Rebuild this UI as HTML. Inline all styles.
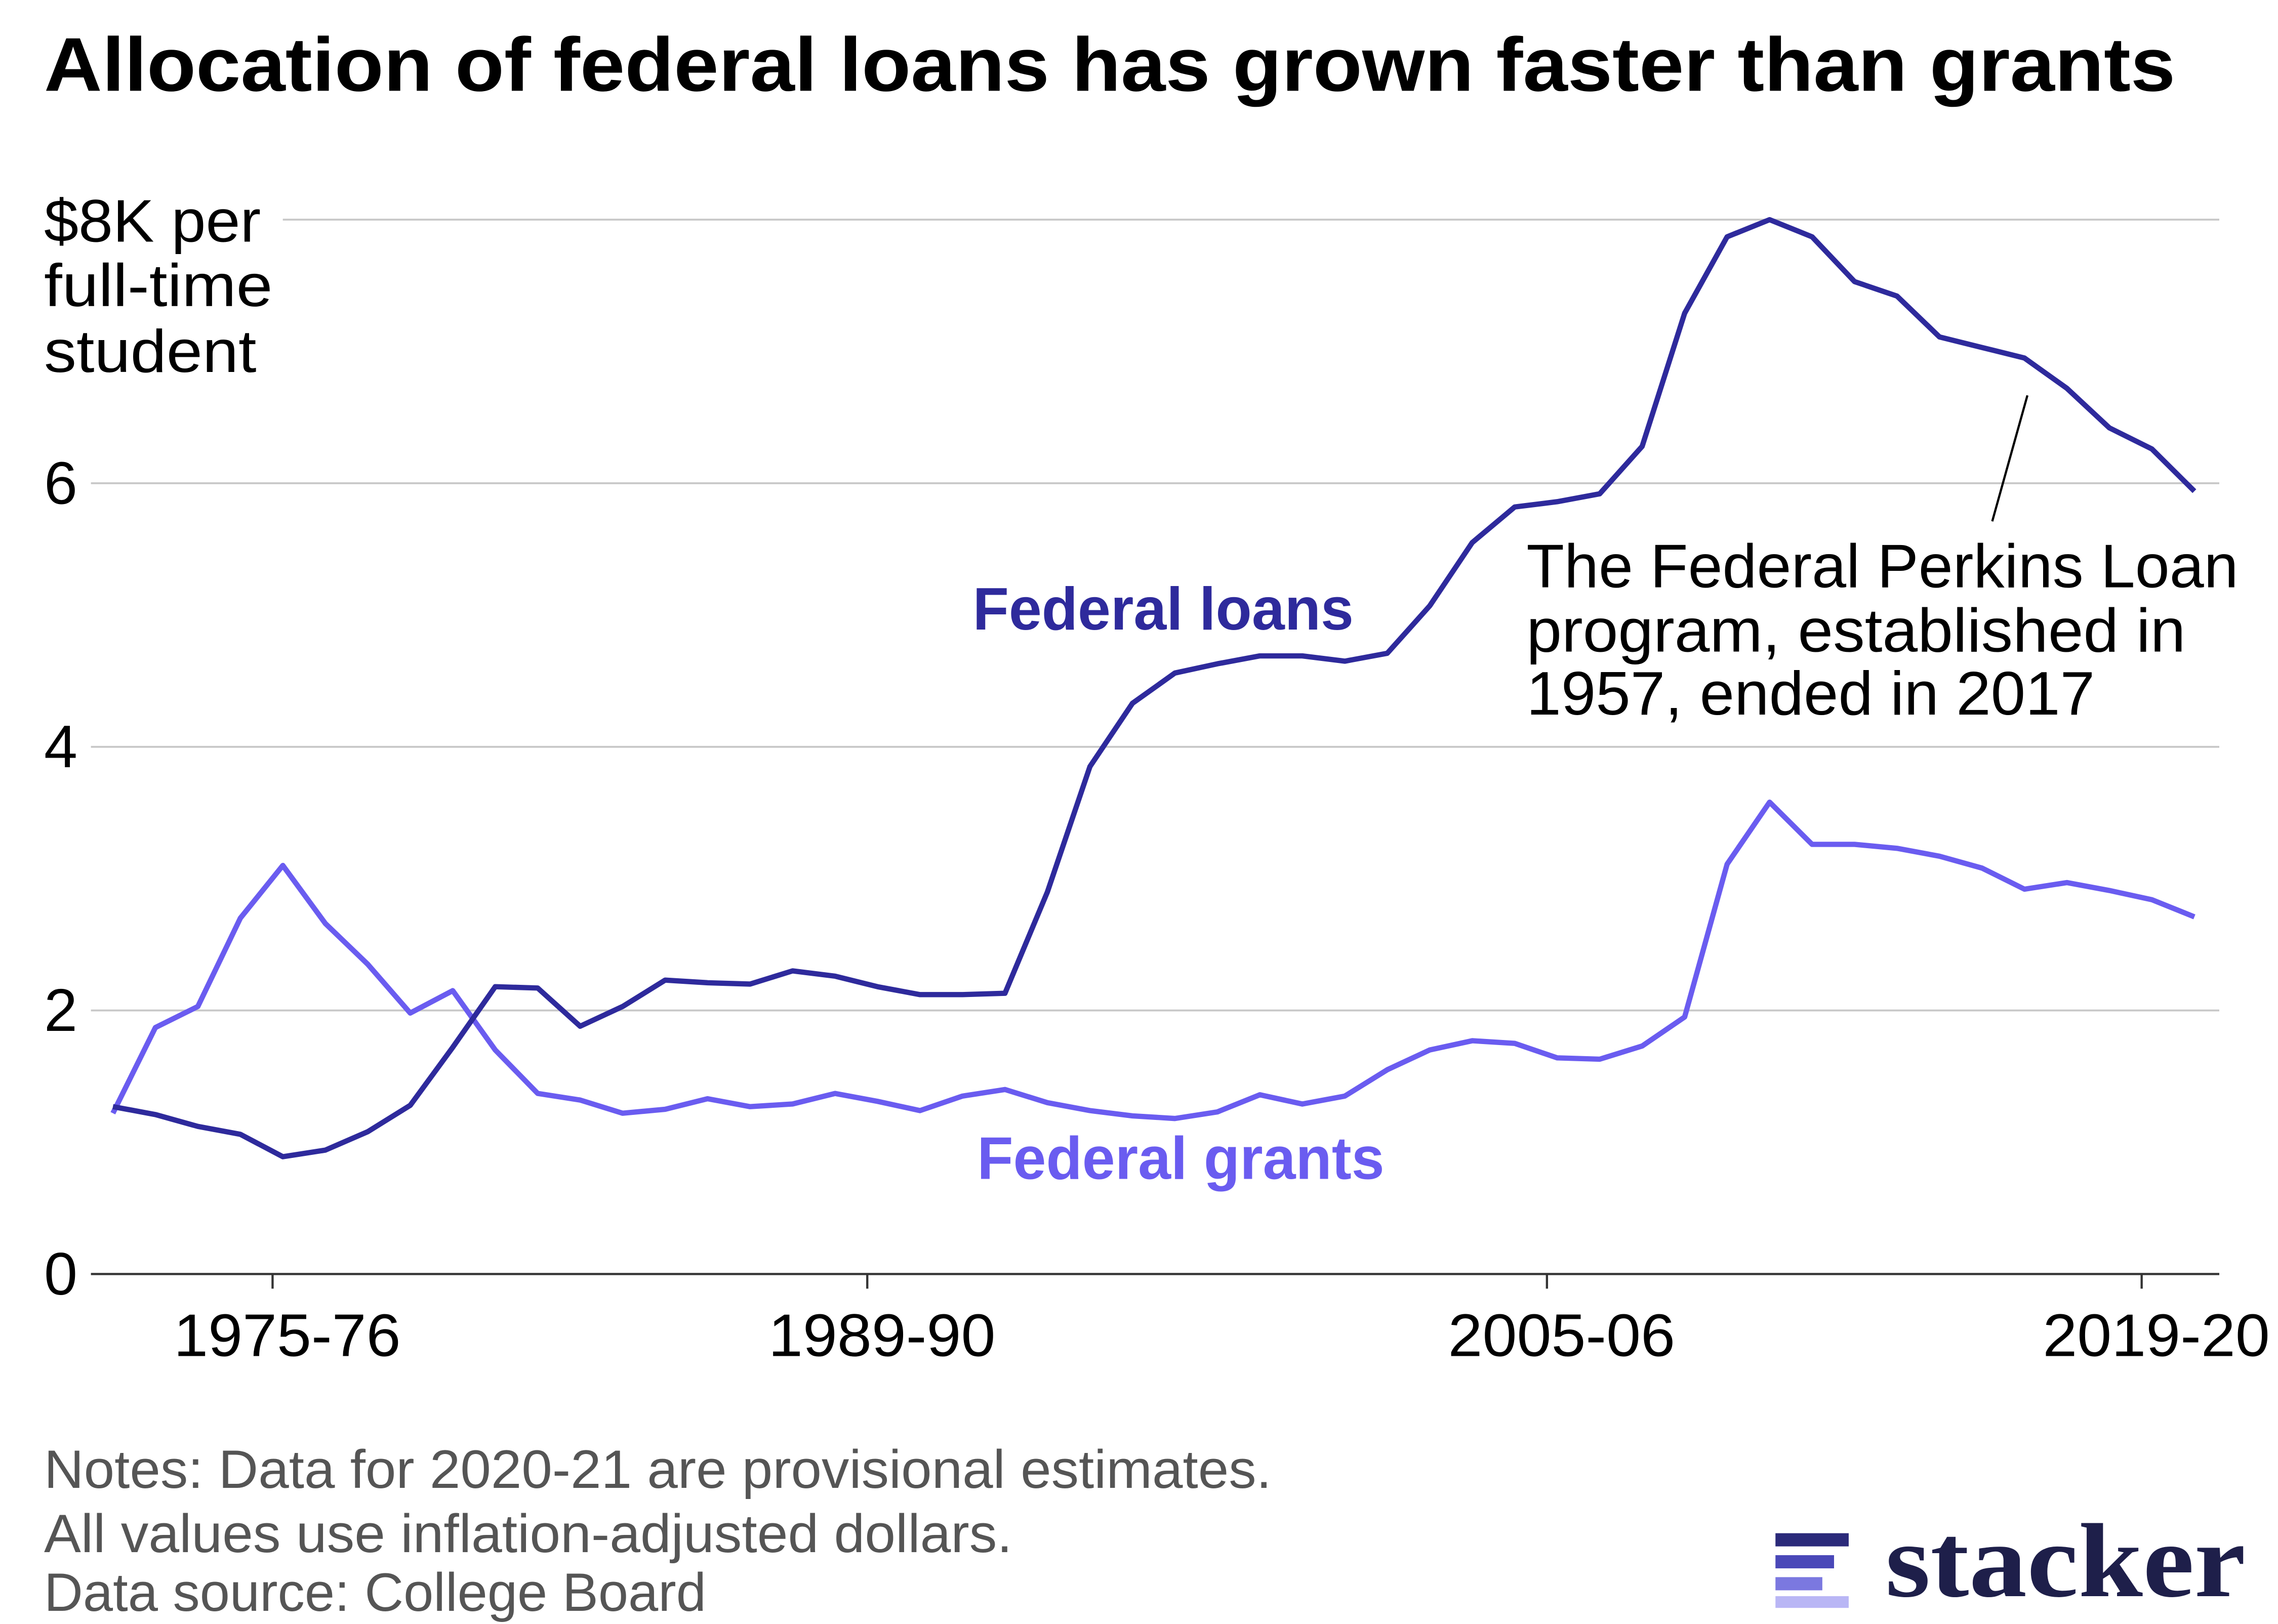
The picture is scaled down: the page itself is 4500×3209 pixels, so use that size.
<!DOCTYPE html>
<html><head><meta charset="utf-8"><style>
html,body{margin:0;padding:0;background:#fff;}
svg{display:block;font-family:"Liberation Sans",sans-serif;}
</style></head><body>
<svg id="chart" width="4500" height="3209" viewBox="0 0 1555 1109" xmlns="http://www.w3.org/2000/svg">
<rect width="1555" height="1109" fill="#fff"/>
<text x="30" y="62" font-size="52" font-weight="bold" fill="#000" textLength="1455" lengthAdjust="spacingAndGlyphs">Allocation of federal loans has grown faster than grants</text>
<g id="grid"></g>
<g id="yticks"></g>
<text font-size="41" fill="#000"><tspan x="30" y="165" textLength="148" lengthAdjust="spacingAndGlyphs">$8K per</tspan><tspan x="30" y="209" textLength="156" lengthAdjust="spacingAndGlyphs">full-time</tspan><tspan x="30" y="254" textLength="145" lengthAdjust="spacingAndGlyphs">student</tspan></text>
<g id="xticks"></g>
<g id="lines"></g>
<text x="664" y="430" font-size="41" font-weight="bold" fill="#2e2a9c" textLength="260" lengthAdjust="spacingAndGlyphs">Federal loans</text>
<text x="667" y="805" font-size="41" font-weight="bold" fill="#6a5cf0" textLength="278" lengthAdjust="spacingAndGlyphs">Federal grants</text>
<line x1="1384" y1="270" x2="1360" y2="356" stroke="#000" stroke-width="1.5"/>
<text font-size="42" fill="#000"><tspan x="1042" y="401" textLength="486" lengthAdjust="spacingAndGlyphs">The Federal Perkins Loan</tspan><tspan x="1042" y="445" textLength="450" lengthAdjust="spacingAndGlyphs">program, established in</tspan><tspan x="1042" y="488" textLength="388" lengthAdjust="spacingAndGlyphs">1957, ended in 2017</tspan></text>
<text font-size="37" fill="#555"><tspan x="30" y="1016" textLength="838" lengthAdjust="spacingAndGlyphs">Notes: Data for 2020-21 are provisional estimates.</tspan><tspan x="30" y="1060" textLength="661" lengthAdjust="spacingAndGlyphs">All values use inflation-adjusted dollars.</tspan><tspan x="30" y="1100" textLength="452" lengthAdjust="spacingAndGlyphs">Data source: College Board</tspan></text>
<g>
<rect x="1212" y="1047" width="50" height="9" fill="#2b2a7a"/>
<rect x="1212" y="1062" width="40" height="9" fill="#4a48b8"/>
<rect x="1212" y="1077" width="32" height="9" fill="#7b78e0"/>
<rect x="1212" y="1090" width="50" height="8" fill="#b9b6f5"/>
<text x="1287" y="1090" font-family="'Liberation Serif',serif" font-size="72" font-weight="bold" fill="#1e1f4a" textLength="246" lengthAdjust="spacingAndGlyphs">stacker</text>
</g>
</svg>
<script>
const years = [];
for (let i = 0; i < 50; i++) years.push(1971 + i);
const loans = [1.27,1.21,1.12,1.06,0.89,0.94,1.08,1.28,1.72,2.18,2.17,1.88,2.03,2.23,2.21,2.20,2.30,2.26,2.18,2.12,2.12,2.13,2.90,3.85,4.33,4.56,4.63,4.69,4.69,4.65,4.71,5.07,5.55,5.82,5.86,5.92,6.28,7.29,7.87,8.00,7.87,7.53,7.42,7.11,7.03,6.95,6.72,6.42,6.26,5.94];
const grants = [1.22,1.87,2.03,2.70,3.10,2.66,2.35,1.98,2.15,1.70,1.37,1.32,1.22,1.25,1.33,1.27,1.29,1.37,1.31,1.24,1.35,1.40,1.30,1.24,1.20,1.18,1.23,1.36,1.29,1.35,1.55,1.70,1.77,1.75,1.64,1.63,1.73,1.95,3.11,3.58,3.26,3.26,3.23,3.17,3.08,2.92,2.97,2.91,2.84,2.71];
const yTicks = [0,2,4,6,8];
const xTickYears = [1975,1989,2005,2019];
const xTickLabels = ["1975-76","1989-90","2005-06","2019-20"];

const NS = "http://www.w3.org/2000/svg";
const x = yr => 77 + (yr - 1971) * 29.0;
const y = v => 870 - v * 90;
function mk(tag, attrs, parent){const e=document.createElementNS(NS,tag);for(const k in attrs)e.setAttribute(k,attrs[k]);parent.appendChild(e);return e;}

const grid = document.getElementById('grid'), yt = document.getElementById('yticks'), xt = document.getElementById('xticks'), lines = document.getElementById('lines');
yTicks.forEach(v => {
  if (v === 0) return;
  const l = mk('line',{x1: v===8?193:62, x2:1515, y1:y(v), y2:y(v), stroke:'#c8c8c8', 'stroke-width':1.3}, grid);
  
  
  if (v !== 8) {
    const t = mk('text',{x:30, y:y(v)+14, 'font-size':41, fill:'#000'}, yt);
    t.textContent = v;
    
    
  }
});
const z = mk('text',{x:30, y:y(0)+14, 'font-size':41, fill:'#000'}, yt);
z.textContent = '0';


const ax = mk('line',{x1:62, x2:1515, y1:y(0), y2:y(0), stroke:'#333', 'stroke-width':1.5}, xt);


xTickYears.forEach((yr,i) => {
  const px = x(yr) - 7;
  const tk = mk('line',{x1:px, x2:px, y1:y(0), y2:y(0)+10, stroke:'#333', 'stroke-width':1.5}, xt);
  
  
  const t = mk('text',{x:px+10, y:926, 'font-size':41, fill:'#000', 'text-anchor':'middle', textLength:155, lengthAdjust:'spacingAndGlyphs'}, xt);
  t.textContent = xTickLabels[i];
  
  
});
function path(vals){return vals.map((v,i)=>(i?'L':'M')+x(years[i]).toFixed(1)+','+y(v).toFixed(1)).join('');}
const pg = mk('path',{d:path(grants), fill:'none', stroke:'#6a5cf0', 'stroke-width':3.6, 'stroke-linejoin':'round'}, lines);


const pl = mk('path',{d:path(loans), fill:'none', stroke:'#2e2a9c', 'stroke-width':3.6, 'stroke-linejoin':'round'}, lines);


</script>
</body></html>
